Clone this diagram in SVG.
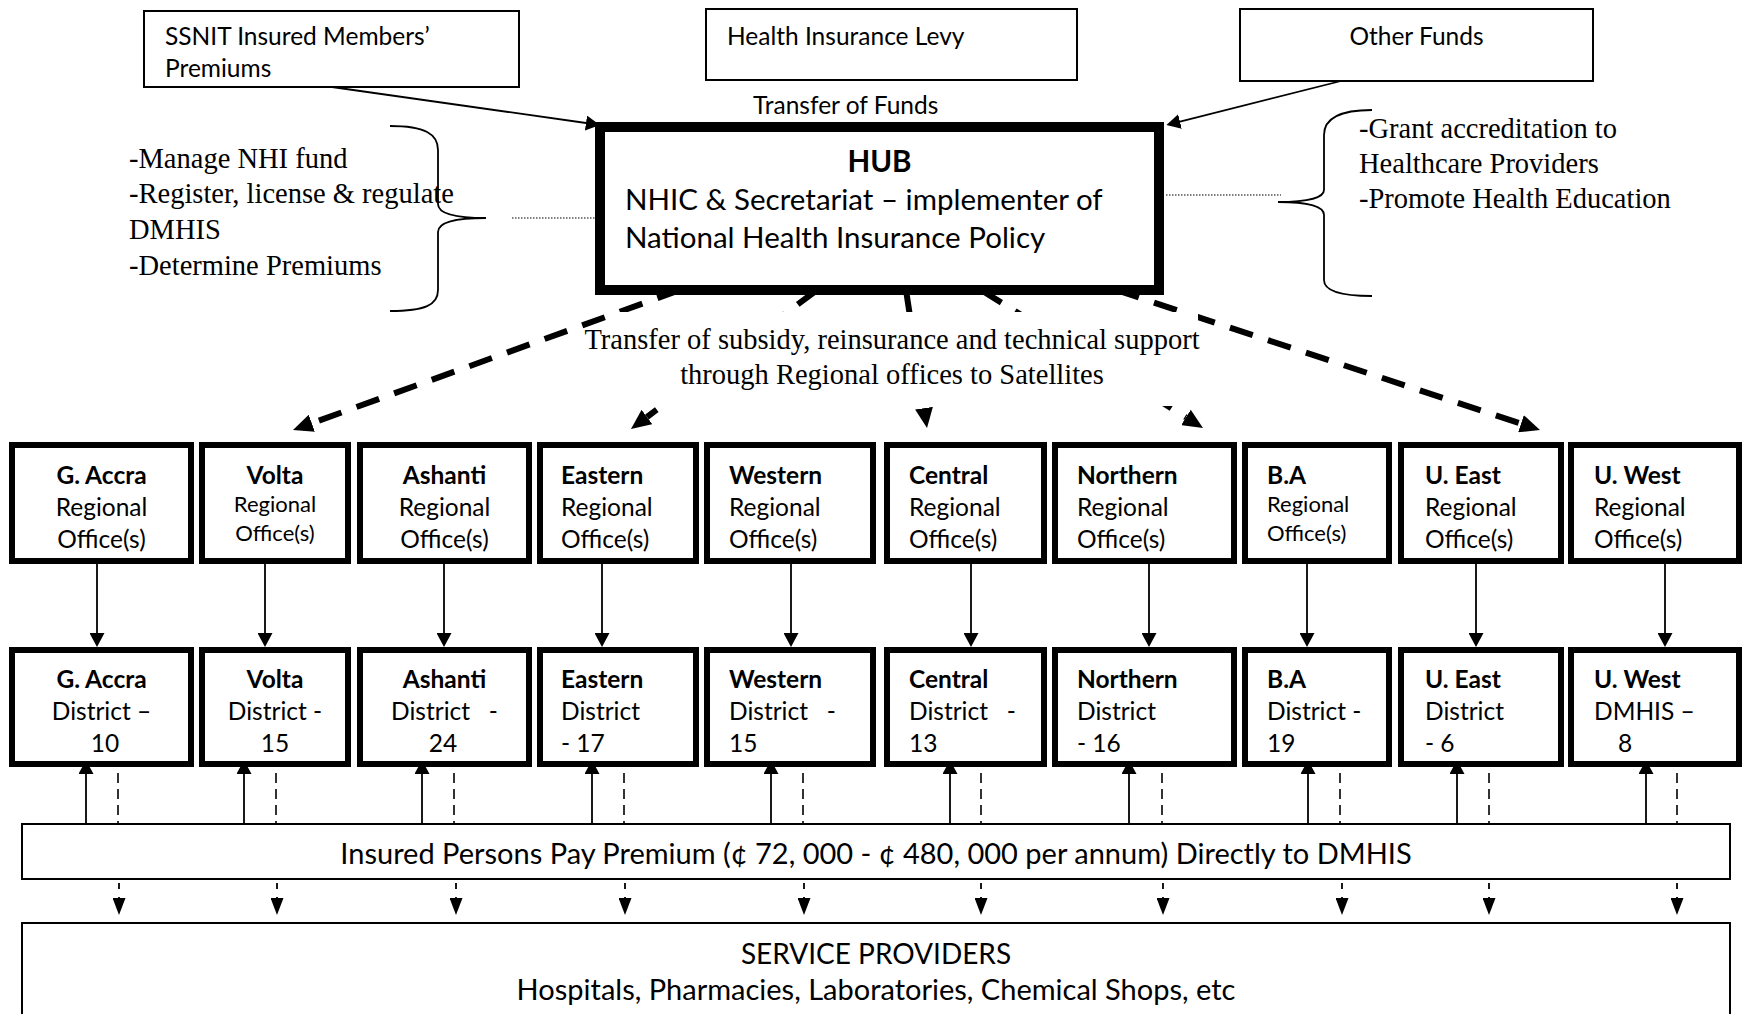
<svg xmlns="http://www.w3.org/2000/svg" width="1744" height="1014" viewBox="0 0 1744 1014">
<style>
.bx{fill:#fff;stroke:#000;stroke-width:2}
.hub{fill:#fff;stroke:#000;stroke-width:10}
.rg{fill:#fff;stroke:#000;stroke-width:6}
.s{font-family:Lato,"Liberation Sans",sans-serif;fill:#000}
.sf{font-family:"Liberation Serif",serif;fill:#000;font-size:28.5px}
.b{font-weight:700}
.t24{font-size:24.5px}
.t22{font-size:22px}
.mid{text-anchor:middle}
.thin{stroke:#000;stroke-width:1.8;fill:none}
.big{stroke:#000;stroke-width:6;stroke-dasharray:24 16;fill:none}
.ds{stroke:#000;stroke-width:1.6;stroke-dasharray:10 6;fill:none}
.dt{stroke:#000;stroke-width:1.2;stroke-dasharray:1.5 1.5;fill:none}
.br{stroke:#000;stroke-width:1.8;fill:none}
</style>
<defs>
<marker id="ah" markerUnits="userSpaceOnUse" markerWidth="14" markerHeight="15" refX="0" refY="7.5" orient="auto"><path d="M0,0 L14,7.5 L0,15 z" fill="#000"/></marker>
<marker id="bh" markerUnits="userSpaceOnUse" markerWidth="20" markerHeight="18" refX="0" refY="9" orient="auto"><path d="M0,0 L20,9 L0,18 z" fill="#000"/></marker>
<marker id="dh" markerUnits="userSpaceOnUse" markerWidth="17" markerHeight="13" refX="0" refY="6.5" orient="auto"><path d="M0,0 L17,6.5 L0,13 z" fill="#000"/></marker>
</defs>
<rect width="1744" height="1014" fill="#fff"/>

<g id="connectors">
<line class="thin" x1="332" y1="87" x2="586" y2="123" marker-end="url(#ah)"/>
<line class="thin" x1="1341" y1="81" x2="1180" y2="121.6" marker-end="url(#ah)"/>
<line class="big" x1="680" y1="290" x2="311.8" y2="423.2" marker-end="url(#bh)"/>
<line class="big" x1="817" y1="290" x2="647" y2="417" marker-end="url(#bh)"/>
<line class="big" x1="906" y1="290" x2="924" y2="408.2" marker-end="url(#bh)"/>
<line class="big" x1="981" y1="290" x2="1186" y2="417.4" marker-end="url(#bh)"/>
<line class="big" x1="1116" y1="290" x2="1521" y2="423.7" marker-end="url(#bh)"/>
<line class="dt" x1="512" y1="218" x2="595" y2="218"/>
<line class="dt" x1="1166" y1="195" x2="1281" y2="195"/>
<g class="thin">
<line x1="97" y1="564" x2="97" y2="633" marker-end="url(#ah)"/>
<line x1="265" y1="564" x2="265" y2="633" marker-end="url(#ah)"/>
<line x1="444" y1="564" x2="444" y2="633" marker-end="url(#ah)"/>
<line x1="602" y1="564" x2="602" y2="633" marker-end="url(#ah)"/>
<line x1="791" y1="564" x2="791" y2="633" marker-end="url(#ah)"/>
<line x1="971" y1="564" x2="971" y2="633" marker-end="url(#ah)"/>
<line x1="1149" y1="564" x2="1149" y2="633" marker-end="url(#ah)"/>
<line x1="1307" y1="564" x2="1307" y2="633" marker-end="url(#ah)"/>
<line x1="1476" y1="564" x2="1476" y2="633" marker-end="url(#ah)"/>
<line x1="1665" y1="564" x2="1665" y2="633" marker-end="url(#ah)"/>
<line x1="86" y1="824" x2="86" y2="774" marker-end="url(#ah)"/>
<line x1="244" y1="824" x2="244" y2="774" marker-end="url(#ah)"/>
<line x1="422" y1="824" x2="422" y2="774" marker-end="url(#ah)"/>
<line x1="592" y1="824" x2="592" y2="774" marker-end="url(#ah)"/>
<line x1="771" y1="824" x2="771" y2="774" marker-end="url(#ah)"/>
<line x1="950" y1="824" x2="950" y2="774" marker-end="url(#ah)"/>
<line x1="1129" y1="824" x2="1129" y2="774" marker-end="url(#ah)"/>
<line x1="1308" y1="824" x2="1308" y2="774" marker-end="url(#ah)"/>
<line x1="1457" y1="824" x2="1457" y2="774" marker-end="url(#ah)"/>
<line x1="1646" y1="824" x2="1646" y2="774" marker-end="url(#ah)"/>
</g>
<g class="ds">
<line x1="118" y1="773" x2="118" y2="824"/>
<line x1="276" y1="773" x2="276" y2="824"/>
<line x1="454" y1="773" x2="454" y2="824"/>
<line x1="624" y1="773" x2="624" y2="824"/>
<line x1="803" y1="773" x2="803" y2="824"/>
<line x1="981" y1="773" x2="981" y2="824"/>
<line x1="1162" y1="773" x2="1162" y2="824"/>
<line x1="1340" y1="773" x2="1340" y2="824"/>
<line x1="1489" y1="773" x2="1489" y2="824"/>
<line x1="1677" y1="773" x2="1677" y2="824"/>
</g>
<g class="thin" style="stroke-dasharray:6 8">
<line x1="119" y1="883" x2="119" y2="898" marker-end="url(#dh)"/>
<line x1="277" y1="883" x2="277" y2="898" marker-end="url(#dh)"/>
<line x1="456" y1="883" x2="456" y2="898" marker-end="url(#dh)"/>
<line x1="625" y1="883" x2="625" y2="898" marker-end="url(#dh)"/>
<line x1="804" y1="883" x2="804" y2="898" marker-end="url(#dh)"/>
<line x1="981" y1="883" x2="981" y2="898" marker-end="url(#dh)"/>
<line x1="1163" y1="883" x2="1163" y2="898" marker-end="url(#dh)"/>
<line x1="1342" y1="883" x2="1342" y2="898" marker-end="url(#dh)"/>
<line x1="1489" y1="883" x2="1489" y2="898" marker-end="url(#dh)"/>
<line x1="1677" y1="883" x2="1677" y2="898" marker-end="url(#dh)"/>
</g>
</g>

<g id="label-transfer-subsidy">
<rect x="615" y="312" width="583" height="94" fill="#fff"/>
<text class="sf mid" x="892" y="349">Transfer of subsidy, reinsurance and technical support</text>
<text class="sf mid" x="892" y="384">through Regional offices to Satellites</text>
</g>

<g id="ssnit">
<rect class="bx" x="144" y="11" width="375" height="76"/>
<text class="s t24" x="165" y="45">SSNIT Insured Members’</text>
<text class="s t24" x="165" y="77">Premiums</text>
</g>
<g id="levy">
<rect class="bx" x="706" y="9" width="371" height="71"/>
<text class="s t24" x="727" y="45">Health Insurance Levy</text>
</g>
<g id="other">
<rect class="bx" x="1240" y="9" width="353" height="72"/>
<text class="s t24 mid" x="1416.5" y="45">Other Funds</text>
</g>
<g id="transfer-funds-label">
<text class="s t24" x="753" y="114">Transfer of Funds</text>
</g>

<g id="hub">
<rect class="hub" x="600" y="127" width="559" height="163"/>
<text class="s b mid" x="879.5" y="172" style="font-size:29.5px">HUB</text>
<text class="s" x="625" y="210" style="font-size:29.5px">NHIC &amp; Secretariat – implementer of</text>
<text class="s" x="625" y="248" style="font-size:29.5px">National Health Insurance Policy</text>
</g>

<g id="hub-roles-left">
<path class="br" d="M390,126 C425,126 438,134 438,150 L438,204 C438,213 452,218 486,218 C452,218 438,223 438,232 L438,290 C438,305 425,311 390,311"/>
<text class="sf" x="129" y="168">-Manage NHI fund</text>
<text class="sf" x="129" y="203">-Register, license &amp; regulate</text>
<text class="sf" x="129" y="239">DMHIS</text>
<text class="sf" x="129" y="275">-Determine Premiums</text>
</g>
<g id="hub-roles-right">
<path class="br" d="M1372,110 C1338,110 1324,120 1324,135 L1324,190 C1324,197 1310,202 1278,202 C1310,202 1324,207 1324,215 L1324,280 C1324,290 1338,296 1372,296"/>
<text class="sf" x="1359" y="138">-Grant accreditation to</text>
<text class="sf" x="1359" y="173">Healthcare Providers</text>
<text class="sf" x="1359" y="208">-Promote Health Education</text>
</g>

<g id="reg-gaccra"><rect class="rg" x="12" y="445" width="179" height="116"/>
<text class="s t24 mid"><tspan class="b" x="101.5" y="484">G. Accra</tspan><tspan x="101.5" y="516">Regional</tspan><tspan x="101.5" y="548">Office(s)</tspan></text></g>
<g id="reg-volta"><rect class="rg" x="202" y="445" width="146" height="116"/>
<text class="s t24 b mid" x="275" y="484">Volta</text>
<text class="s t22 mid"><tspan x="275" y="512">Regional</tspan><tspan x="275" y="541">Office(s)</tspan></text></g>
<g id="reg-ashanti"><rect class="rg" x="360" y="445" width="169" height="116"/>
<text class="s t24 mid"><tspan class="b" x="444.5" y="484">Ashanti</tspan><tspan x="444.5" y="516">Regional</tspan><tspan x="444.5" y="548">Office(s)</tspan></text></g>
<g id="reg-eastern"><rect class="rg" x="540" y="445" width="156" height="116"/>
<text class="s t24"><tspan class="b" x="561" y="484">Eastern</tspan><tspan x="561" y="516">Regional</tspan><tspan x="561" y="548">Office(s)</tspan></text></g>
<g id="reg-western"><rect class="rg" x="707" y="445" width="166" height="116"/>
<text class="s t24"><tspan class="b" x="729" y="484">Western</tspan><tspan x="729" y="516">Regional</tspan><tspan x="729" y="548">Office(s)</tspan></text></g>
<g id="reg-central"><rect class="rg" x="887" y="445" width="157" height="116"/>
<text class="s t24"><tspan class="b" x="909" y="484">Central</tspan><tspan x="909" y="516">Regional</tspan><tspan x="909" y="548">Office(s)</tspan></text></g>
<g id="reg-northern"><rect class="rg" x="1055" y="445" width="179" height="116"/>
<text class="s t24"><tspan class="b" x="1077" y="484">Northern</tspan><tspan x="1077" y="516">Regional</tspan><tspan x="1077" y="548">Office(s)</tspan></text></g>
<g id="reg-ba"><rect class="rg" x="1245" y="445" width="144" height="116"/>
<text class="s t24 b" x="1267" y="484">B.A</text>
<text class="s t22"><tspan x="1267" y="512">Regional</tspan><tspan x="1267" y="541">Office(s)</tspan></text></g>
<g id="reg-ueast"><rect class="rg" x="1401" y="445" width="160" height="116"/>
<text class="s t24"><tspan class="b" x="1425" y="484">U. East</tspan><tspan x="1425" y="516">Regional</tspan><tspan x="1425" y="548">Office(s)</tspan></text></g>
<g id="reg-uwest"><rect class="rg" x="1571" y="445" width="168" height="116"/>
<text class="s t24"><tspan class="b" x="1594" y="484">U. West</tspan><tspan x="1594" y="516">Regional</tspan><tspan x="1594" y="548">Office(s)</tspan></text></g>

<g id="dist-gaccra"><rect class="rg" x="12" y="650" width="179" height="114"/>
<text class="s t24 mid"><tspan class="b" x="101.5" y="688">G. Accra</tspan><tspan x="101.5" y="720">District –</tspan><tspan x="105" y="752">10</tspan></text></g>
<g id="dist-volta"><rect class="rg" x="202" y="650" width="146" height="114"/>
<text class="s t24 mid"><tspan class="b" x="275" y="688">Volta</tspan><tspan x="275" y="720">District -</tspan><tspan x="275" y="752">15</tspan></text></g>
<g id="dist-ashanti"><rect class="rg" x="360" y="650" width="169" height="114"/>
<text class="s t24 mid" xml:space="preserve"><tspan class="b" x="444.5" y="688">Ashanti</tspan><tspan x="444.5" y="720">District   -</tspan><tspan x="443" y="752">24</tspan></text></g>
<g id="dist-eastern"><rect class="rg" x="540" y="650" width="156" height="114"/>
<text class="s t24"><tspan class="b" x="561" y="688">Eastern</tspan><tspan x="561" y="720">District</tspan><tspan x="561" y="752">- 17</tspan></text></g>
<g id="dist-western"><rect class="rg" x="707" y="650" width="166" height="114"/>
<text class="s t24" xml:space="preserve"><tspan class="b" x="729" y="688">Western</tspan><tspan x="729" y="720">District   -</tspan><tspan x="729" y="752">15</tspan></text></g>
<g id="dist-central"><rect class="rg" x="887" y="650" width="157" height="114"/>
<text class="s t24" xml:space="preserve"><tspan class="b" x="909" y="688">Central</tspan><tspan x="909" y="720">District   -</tspan><tspan x="909" y="752">13</tspan></text></g>
<g id="dist-northern"><rect class="rg" x="1055" y="650" width="179" height="114"/>
<text class="s t24"><tspan class="b" x="1077" y="688">Northern</tspan><tspan x="1077" y="720">District</tspan><tspan x="1077" y="752">- 16</tspan></text></g>
<g id="dist-ba"><rect class="rg" x="1245" y="650" width="144" height="114"/>
<text class="s t24"><tspan class="b" x="1267" y="688">B.A</tspan><tspan x="1267" y="720">District -</tspan><tspan x="1267" y="752">19</tspan></text></g>
<g id="dist-ueast"><rect class="rg" x="1401" y="650" width="160" height="114"/>
<text class="s t24"><tspan class="b" x="1425" y="688">U. East</tspan><tspan x="1425" y="720">District</tspan><tspan x="1425" y="752">- 6</tspan></text></g>
<g id="dist-uwest"><rect class="rg" x="1571" y="650" width="168" height="114"/>
<text class="s t24"><tspan class="b" x="1594" y="688">U. West</tspan><tspan x="1594" y="720">DMHIS –</tspan><tspan x="1618" y="752">8</tspan></text></g>

<g id="premium">
<rect class="bx" x="22" y="824" width="1708" height="55"/>
<text class="s mid" x="876" y="864" style="font-size:29px">Insured Persons Pay Premium (¢ 72, 000 - ¢ 480, 000 per annum) Directly to DMHIS</text>
</g>
<g id="service-providers">
<rect class="bx" x="22" y="923" width="1708" height="100"/>
<text class="s mid" x="876" y="964" style="font-size:28px">SERVICE PROVIDERS</text>
<text class="s mid" x="876" y="1000" style="font-size:29px">Hospitals, Pharmacies, Laboratories, Chemical Shops, etc</text>
</g>
</svg>
